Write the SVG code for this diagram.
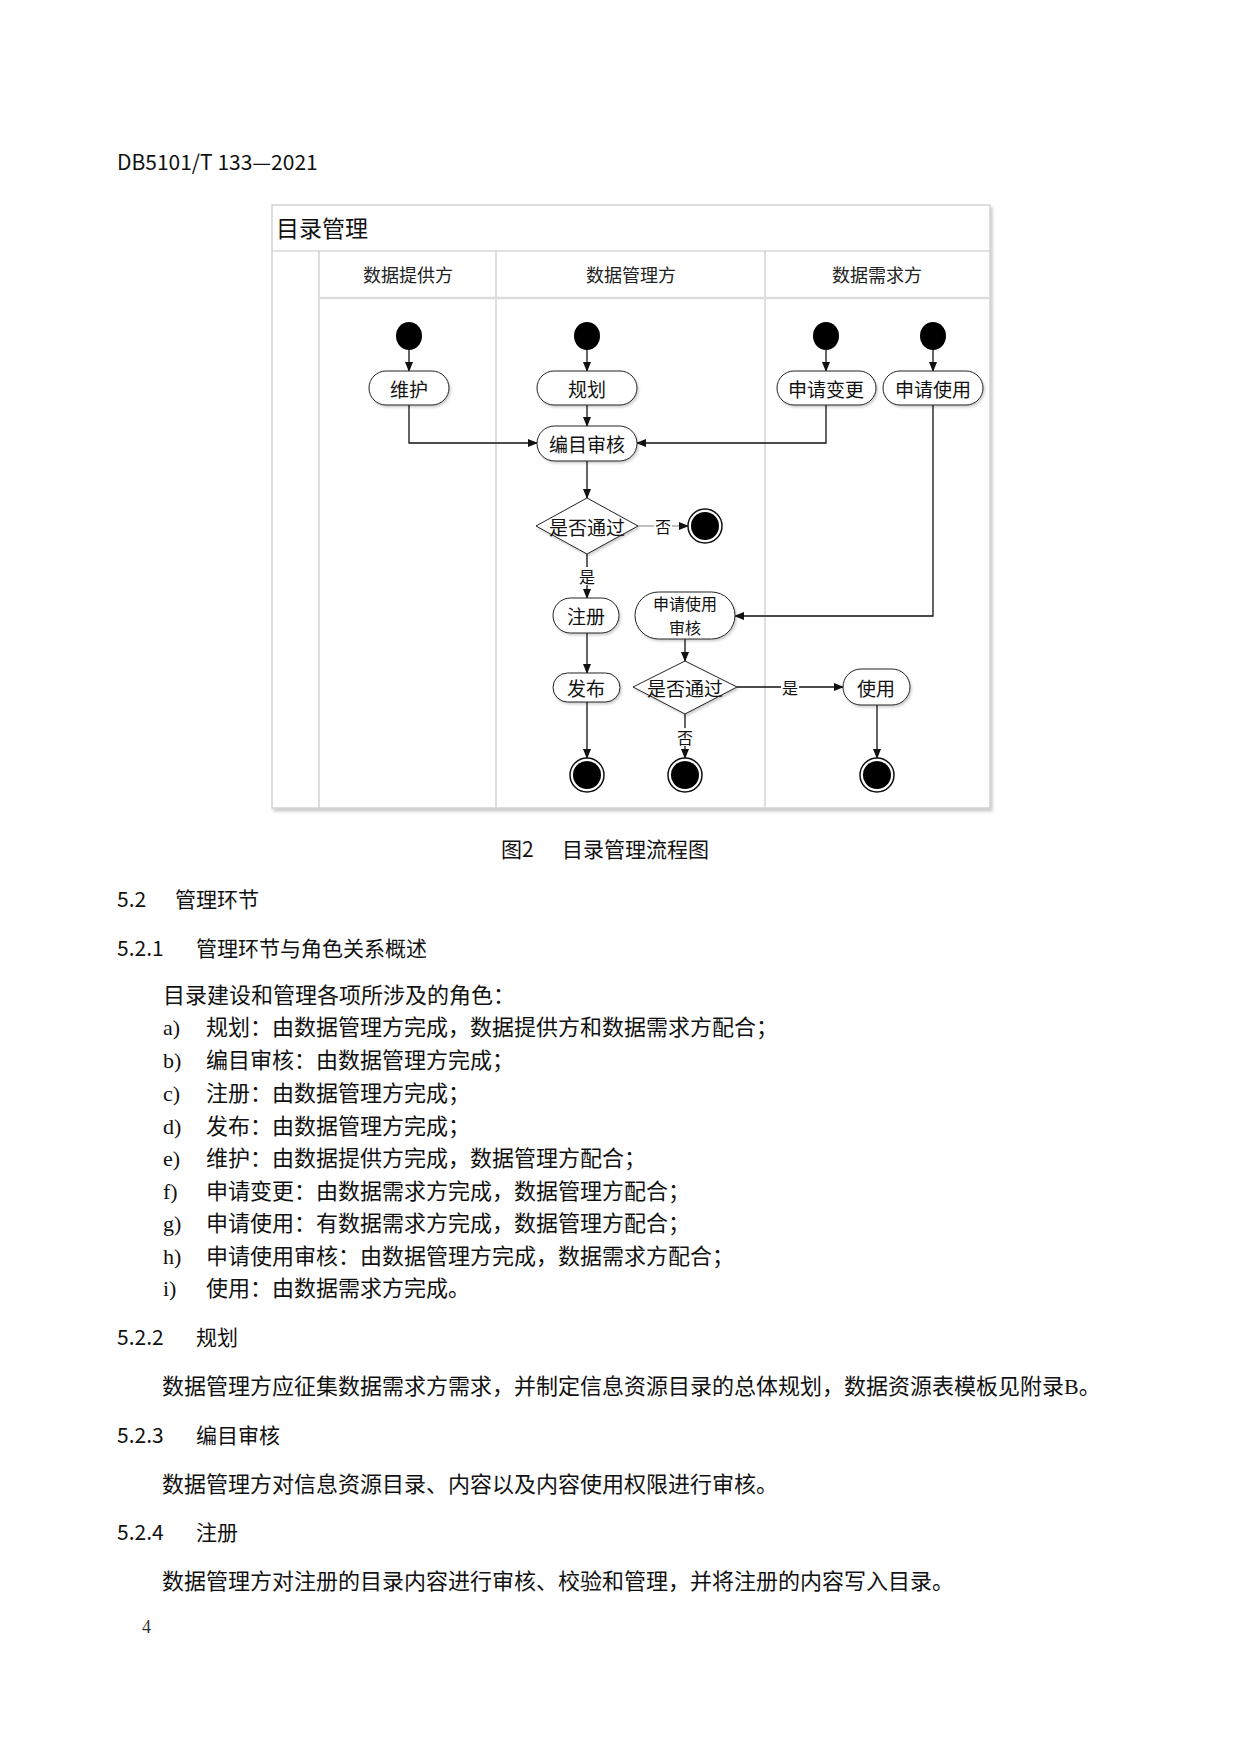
<svg xmlns="http://www.w3.org/2000/svg" width="1241" height="1754" viewBox="0 0 1241 1754">
<style>
.hei{font-family:"Noto Sans CJK SC","Noto Sans",sans-serif;fill:#111;}
.song{font-family:"Liberation Serif","Noto Sans CJK SC",serif;fill:#111;font-size:22px;}
.dg{font-family:"Noto Sans CJK SC","Noto Sans",sans-serif;fill:#111;font-size:19px;text-anchor:middle;dominant-baseline:central;}
.dg2{font-family:"Noto Sans CJK SC","Noto Sans",sans-serif;fill:#111;font-size:16px;text-anchor:middle;dominant-baseline:central;}
.lane{font-family:"Noto Sans CJK SC","Noto Sans",sans-serif;fill:#222;font-size:18px;text-anchor:middle;dominant-baseline:central;}
.act{fill:#fff;stroke:#222;stroke-width:1;filter:url(#sh);}
.frame{fill:none;stroke:#c8c8c8;stroke-width:1.2;}
.con{fill:none;stroke:#111;stroke-width:1.3;}
.cong{fill:none;stroke:#aaa;stroke-width:1.3;}
.lbl{font-family:"Noto Sans CJK SC","Noto Sans",sans-serif;fill:#111;font-size:16px;text-anchor:middle;dominant-baseline:central;}
</style>
<defs>
<marker id="ah" markerWidth="10" markerHeight="8" refX="9" refY="4" orient="auto" markerUnits="userSpaceOnUse">
<path d="M0,0 L10,4 L0,8 Z" fill="#111"/>
</marker>
<filter id="sh" x="-20%" y="-20%" width="150%" height="160%">
<feDropShadow dx="1.5" dy="2" stdDeviation="1.2" flood-color="#000" flood-opacity="0.18"/>
</filter>
<filter id="bsh" x="-5%" y="-5%" width="110%" height="110%">
<feDropShadow dx="2" dy="3" stdDeviation="1.5" flood-color="#000" flood-opacity="0.2"/>
</filter>
<g id="endc">
<circle r="17" fill="#fff" stroke="#111" stroke-width="1.5"/>
<circle r="14" fill="#000"/>
</g>
</defs>
<rect width="1241" height="1754" fill="#fff"/>

<!-- page header -->
<text class="hei" x="117" y="170" font-size="21">DB5101/T 133—2021</text>

<!-- swimlane frame -->
<g id="frame">
<rect x="272" y="205" width="718" height="603" fill="#fff" stroke="#c8c8c8" stroke-width="1.2" filter="url(#bsh)"/>
<line class="frame" x1="272" y1="251" x2="990" y2="251"/>
<line class="frame" x1="319" y1="251" x2="319" y2="808"/>
<line class="frame" x1="496" y1="251" x2="496" y2="808"/>
<line class="frame" x1="765" y1="251" x2="765" y2="808"/>
<line x1="319" y1="298" x2="990" y2="298" stroke="#ddd" stroke-width="2.5"/>
<text x="276" y="227" font-family="Noto Sans CJK SC, sans-serif" font-size="23" fill="#111" dominant-baseline="central">目录管理</text>
<text class="lane" x="408" y="274">数据提供方</text>
<text class="lane" x="631" y="274">数据管理方</text>
<text class="lane" x="877" y="274">数据需求方</text>
</g>

<!-- connectors -->
<g id="connectors">
<line class="con" x1="409" y1="349" x2="409" y2="371" marker-end="url(#ah)"/>
<line class="con" x1="587" y1="349" x2="587" y2="371" marker-end="url(#ah)"/>
<line class="con" x1="826" y1="349" x2="826" y2="371" marker-end="url(#ah)"/>
<line class="con" x1="933" y1="349" x2="933" y2="371" marker-end="url(#ah)"/>
<polyline class="con" points="409,405 409,443 537,443" marker-end="url(#ah)"/>
<line class="con" x1="587" y1="405" x2="587" y2="426" marker-end="url(#ah)"/>
<polyline class="con" points="826,405 826,443 637,443" marker-end="url(#ah)"/>
<line class="con" x1="587" y1="461" x2="587" y2="498" marker-end="url(#ah)"/>
<line class="cong" x1="638" y1="526" x2="688" y2="526" marker-end="url(#ah)"/>
<line class="con" x1="587" y1="554" x2="587" y2="598" marker-end="url(#ah)"/>
<polyline class="con" points="933,405 933,616 735,616" marker-end="url(#ah)"/>
<line class="con" x1="587" y1="633" x2="587" y2="673" marker-end="url(#ah)"/>
<line class="con" x1="685" y1="639" x2="685" y2="661" marker-end="url(#ah)"/>
<line class="con" x1="737" y1="687" x2="843" y2="687" marker-end="url(#ah)"/>
<line class="con" x1="685" y1="714" x2="685" y2="758" marker-end="url(#ah)"/>
<line class="con" x1="587" y1="701" x2="587" y2="758" marker-end="url(#ah)"/>
<line class="con" x1="877" y1="705" x2="877" y2="758" marker-end="url(#ah)"/>
<rect x="654" y="517" width="18" height="18" fill="#fff"/>
<text class="lbl" x="663" y="526">否</text>
<rect x="578" y="567" width="18" height="18" fill="#fff"/>
<text class="lbl" x="587" y="576">是</text>
<rect x="781" y="678" width="18" height="18" fill="#fff"/>
<text class="lbl" x="790" y="687">是</text>
<rect x="676" y="728" width="18" height="18" fill="#fff"/>
<text class="lbl" x="685" y="737">否</text>
</g>

<!-- start nodes -->
<g id="start1"><ellipse cx="409" cy="336" rx="13" ry="14" fill="#000"/></g>
<g id="start2"><ellipse cx="587" cy="336" rx="13" ry="14" fill="#000"/></g>
<g id="start3"><ellipse cx="826" cy="336" rx="13" ry="14" fill="#000"/></g>
<g id="start4"><ellipse cx="933" cy="336" rx="13" ry="14" fill="#000"/></g>

<!-- activities -->
<g id="weihu"><rect class="act" x="369" y="371" width="80" height="34" rx="17"/><text class="dg" x="409" y="388">维护</text></g>
<g id="guihua"><rect class="act" x="537" y="371" width="100" height="34" rx="17"/><text class="dg" x="587" y="388">规划</text></g>
<g id="sqbg"><rect class="act" x="777" y="371" width="99" height="34" rx="17"/><text class="dg" x="826" y="388">申请变更</text></g>
<g id="sqsy"><rect class="act" x="883" y="371" width="100" height="34" rx="17"/><text class="dg" x="933" y="388">申请使用</text></g>
<g id="bmsh"><rect class="act" x="537" y="426" width="100" height="35" rx="17.5"/><text class="dg" x="587" y="443">编目审核</text></g>
<g id="dec1"><polygon points="587,498 638,526 587,554 536,526" fill="#fff" stroke="#222" stroke-width="1" filter="url(#sh)"/><text class="dg" x="587" y="526">是否通过</text></g>
<g id="end1"><use href="#endc" x="705" y="526"/></g>
<g id="zhuce"><rect class="act" x="553" y="598" width="66" height="35" rx="17.5"/><text class="dg" x="586" y="615">注册</text></g>
<g id="sqsysh"><rect class="act" x="635" y="592" width="100" height="47" rx="23.5"/><text class="dg2" x="685" y="603">申请使用</text><text class="dg2" x="685" y="627">审核</text></g>
<g id="fabu"><rect class="act" x="553" y="673" width="67" height="29" rx="14.5"/><text class="dg" x="586" y="687">发布</text></g>
<g id="dec2"><polygon points="685,661 737,687 685,714 633,687" fill="#fff" stroke="#222" stroke-width="1" filter="url(#sh)"/><text class="dg" x="685" y="687">是否通过</text></g>
<g id="shiyong"><rect class="act" x="843" y="669" width="67" height="36" rx="18"/><text class="dg" x="876" y="687">使用</text></g>
<g id="end2"><use href="#endc" x="587" y="775"/></g>
<g id="end3"><use href="#endc" x="685" y="775"/></g>
<g id="end4"><use href="#endc" x="877" y="775"/></g>

<!-- caption and body text -->
<text class="hei" x="501" y="857" font-size="21">图2</text>
<text class="hei" x="562" y="857" font-size="21">目录管理流程图</text>

<text class="hei" x="117" y="907" font-size="21">5.2</text>
<text class="hei" x="175" y="907" font-size="21">管理环节</text>
<text class="hei" x="117" y="956" font-size="21">5.2.1</text>
<text class="hei" x="196" y="956" font-size="21">管理环节与角色关系概述</text>

<text class="song" x="163" y="1003">目录建设和管理各项所涉及的角色：</text>
<text class="song" x="163" y="1035">a)</text><text class="song" x="206" y="1035">规划：由数据管理方完成，数据提供方和数据需求方配合；</text>
<text class="song" x="163" y="1068">b)</text><text class="song" x="206" y="1068">编目审核：由数据管理方完成；</text>
<text class="song" x="163" y="1101">c)</text><text class="song" x="206" y="1101">注册：由数据管理方完成；</text>
<text class="song" x="163" y="1134">d)</text><text class="song" x="206" y="1134">发布：由数据管理方完成；</text>
<text class="song" x="163" y="1166">e)</text><text class="song" x="206" y="1166">维护：由数据提供方完成，数据管理方配合；</text>
<text class="song" x="163" y="1199">f)</text><text class="song" x="206" y="1199">申请变更：由数据需求方完成，数据管理方配合；</text>
<text class="song" x="163" y="1231">g)</text><text class="song" x="206" y="1231">申请使用：有数据需求方完成，数据管理方配合；</text>
<text class="song" x="163" y="1264">h)</text><text class="song" x="206" y="1264">申请使用审核：由数据管理方完成，数据需求方配合；</text>
<text class="song" x="163" y="1296">i)</text><text class="song" x="206" y="1296">使用：由数据需求方完成。</text>

<text class="hei" x="117" y="1345" font-size="21">5.2.2</text>
<text class="hei" x="196" y="1345" font-size="21">规划</text>
<text class="song" x="162" y="1394">数据管理方应征集数据需求方需求，并制定信息资源目录的总体规划，数据资源表模板见附录B。</text>
<text class="hei" x="117" y="1443" font-size="21">5.2.3</text>
<text class="hei" x="196" y="1443" font-size="21">编目审核</text>
<text class="song" x="162" y="1492">数据管理方对信息资源目录、内容以及内容使用权限进行审核。</text>
<text class="hei" x="117" y="1540" font-size="21">5.2.4</text>
<text class="hei" x="196" y="1540" font-size="21">注册</text>
<text class="song" x="162" y="1589">数据管理方对注册的目录内容进行审核、校验和管理，并将注册的内容写入目录。</text>

<text x="142" y="1633" font-family="Liberation Serif, serif" font-size="18" fill="#333">4</text>
</svg>
